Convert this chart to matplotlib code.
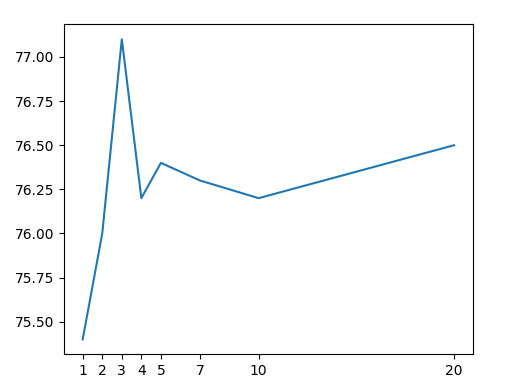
import matplotlib
matplotlib.use('Agg')
import matplotlib.pyplot as plt

# values
steps = [1, 2, 3, 4, 5, 7, 10, 20]
scores = [75.4, 76.0, 77.1, 76.2, 76.4, 76.3, 76.2, 76.5]

fig = plt.figure(figsize=(5.05, 3.92), dpi=100)
ax = fig.add_axes([0.127, 0.096, 0.809, 0.842])
ax.plot(steps, scores)
ax.set_xticks(steps)

fig.savefig('out.png', dpi=100)
